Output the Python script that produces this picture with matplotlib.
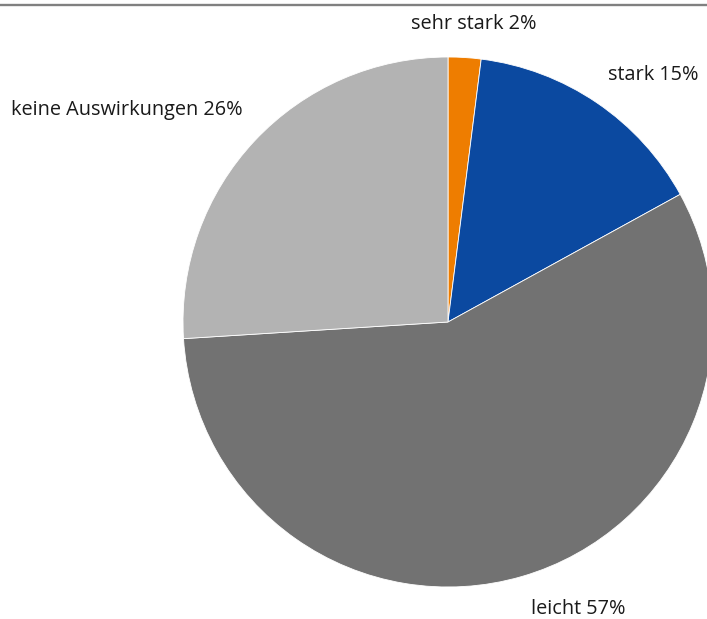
import matplotlib.pyplot as plt
from matplotlib.lines import Line2D

labels = ["sehr stark", "stark", "leicht", "keine Auswirkungen"]
values = [2, 15, 57, 26]
colors = ["#ee7d00", "#0b49a0", "#727272", "#b3b3b3"]

W, H = 707, 619
cx, cy, r = 448, 322, 265

fig = plt.figure(figsize=(W / 100, H / 100), dpi=100)
ax = fig.add_axes([0, 0, 1, 1])
ax.pie(values, colors=colors, startangle=90, counterclock=False, radius=1,
       wedgeprops=dict(edgecolor="white", linewidth=0.6))
ax.set_aspect("auto")
ax.set_xlim(-cx / r, (W - cx) / r)
ax.set_ylim(-(H - cy) / r, cy / r)
ax.axis("off")

fig.add_artist(Line2D([0, 1], [1 - 4.5 / H, 1 - 4.5 / H], color="#808080",
                      linewidth=1.7, transform=fig.transFigure))

# label positions in pixels (center x, center y from top)
label_pos = [(474, 24), (653, 75), (578, 609), (127, 110)]
for lab, v, (px, py) in zip(labels, values, label_pos):
    fig.text(px / W, 1 - py / H, f"{lab} {v}%", ha="center", va="center",
             fontsize=14.3, family=["Open Sans", "DejaVu Sans"], color="#1a1a1a")

fig.savefig("out.png", dpi=100)
